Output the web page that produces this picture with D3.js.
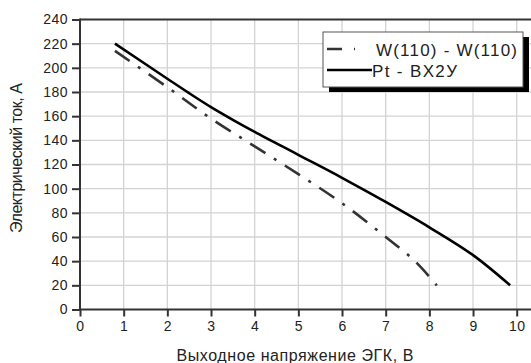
<!DOCTYPE html>
<html>
<head>
<meta charset="utf-8">
<script src="https://cdn.jsdelivr.net/npm/d3@7"></script>
<style>
  html, body { margin: 0; padding: 0; background: #fff; }
  text { font-family: Arial, 'Liberation Sans', sans-serif; fill: #222; }
</style>
</head>
<body>
<div id="chart"></div>
<script>
// Pt - BX2У (solid)
const ptVolt = [0.8, 2, 2.5, 3, 3.5, 4, 5, 6, 7, 8, 9, 9.85]
const ptCurr = [220, 191, 179, 167.5, 157, 147, 128, 109, 89, 68, 45, 20]
// W(110) - W(110) (dash-dot)
const wVolt = [0.8, 2, 3, 4, 5, 6, 7, 7.67, 8.17]
const wCurr = [214, 184, 158, 135, 112, 88, 60, 40, 20]

const xTicks = [0, 1, 2, 3, 4, 5, 6, 7, 8, 9, 10]
const yTicks = [0, 20, 40, 60, 80, 100, 120, 140, 160, 180, 200, 220, 240]
const seriesNames = ['W(110) - W(110)', 'Pt - BX2У']

const width = 531, height = 363
const margin = { left: 80, top: 19.5, bottom: 53.5 }
const unit = 43.67

let svg = d3.select('#chart').append('svg')
    .attr('width', width)
    .attr('height', height)

let x = d3.scaleLinear().domain([0, 10.5]).range([margin.left, margin.left + unit * 10.5])
let y = d3.scaleLinear().domain([0, 240]).range([height - margin.bottom, margin.top])

// grid
svg.append('g').selectAll('line')
    .data(xTicks.filter(d => d > 0))
    .enter().append('line')
    .attr('x1', d => x(d)).attr('x2', d => x(d))
    .attr('y1', y(240)).attr('y2', y(0))
    .attr('stroke', '#d3d3d3').attr('stroke-width', 1.3)
svg.append('g').selectAll('line')
    .data(yTicks.filter(d => d > 0 && d < 240))
    .enter().append('line')
    .attr('x1', x(0)).attr('x2', width)
    .attr('y1', d => y(d)).attr('y2', d => y(d))
    .attr('stroke', '#d3d3d3').attr('stroke-width', 1.3)

// top frame
svg.append('line')
    .attr('x1', x(0)).attr('x2', width)
    .attr('y1', y(240)).attr('y2', y(240))
    .attr('stroke', '#333').attr('stroke-width', 2)

// axes
let xAxis = svg.append('g')
    .attr('transform', 'translate(0,' + y(0) + ')')
    .call(d3.axisBottom(x).tickValues(xTicks).tickSize(7).tickSizeOuter(0).tickPadding(5))
let yAxis = svg.append('g')
    .attr('transform', 'translate(' + x(0) + ',0)')
    .call(d3.axisLeft(y).tickValues(yTicks).tickSize(8).tickSizeOuter(0).tickPadding(4))
;[xAxis, yAxis].forEach(function (a) {
    a.select('.domain').attr('stroke', '#333').attr('stroke-width', 2)
    a.selectAll('.tick line').attr('stroke', '#333').attr('stroke-width', 2)
    a.selectAll('.tick text')
        .attr('font-size', '14px')
        .attr('letter-spacing', '0.5px')
        .attr('fill', '#222')
})
xAxis.select('.domain').attr('d', 'M' + (x(0) - 1) + ',0H' + width)
yAxis.select('.domain').attr('d', 'M0,' + (y(0) + 1) + 'V' + (y(240) - 1))

// titles
svg.append('text')
    .attr('x', 295).attr('y', 361)
    .attr('text-anchor', 'middle')
    .attr('font-size', '16px')
    .attr('textLength', 237)
    .attr('lengthAdjust', 'spacing')
    .text('Выходное напряжение ЭГК, В')
svg.append('text')
    .attr('transform', 'translate(22,158) rotate(-90)')
    .attr('text-anchor', 'middle')
    .attr('font-size', '16px')
    .attr('textLength', 150)
    .attr('lengthAdjust', 'spacing')
    .text('Электрический ток, А')

// lines
let line = d3.line().curve(d3.curveCatmullRom.alpha(0.5))
let plot = svg.append('g')
plot.append('path')
    .datum(wVolt.map((v, i) => [x(v), y(wCurr[i])]))
    .attr('d', line)
    .attr('fill', 'none')
    .attr('stroke', '#333')
    .attr('stroke-width', 2.6)
    .attr('stroke-dasharray', '18,10,3,10')
plot.append('path')
    .datum(ptVolt.map((v, i) => [x(v), y(ptCurr[i])]))
    .attr('d', line)
    .attr('fill', 'none')
    .attr('stroke', '#000')
    .attr('stroke-width', 2.6)

// legend
let lg = svg.append('g').attr('transform', 'translate(323,32)')
lg.append('rect')
    .attr('x', 6).attr('y', 5).attr('width', 200).attr('height', 55)
    .attr('fill', '#000')
lg.append('rect')
    .attr('x', 0).attr('y', 0).attr('width', 200).attr('height', 55)
    .attr('fill', '#fff').attr('stroke', '#555').attr('stroke-width', 1)
lg.append('line')
    .attr('x1', 4).attr('x2', 32).attr('y1', 17).attr('y2', 17)
    .attr('stroke', '#333').attr('stroke-width', 2.6)
    .attr('stroke-dasharray', '15,12,3,20')
lg.append('line')
    .attr('x1', 4).attr('x2', 49).attr('y1', 38).attr('y2', 38)
    .attr('stroke', '#000').attr('stroke-width', 2.6)
lg.append('text')
    .attr('x', 53).attr('y', 23.5)
    .attr('font-size', '17px')
    .attr('textLength', 141)
    .attr('lengthAdjust', 'spacing')
    .text(seriesNames[0])
lg.append('text')
    .attr('x', 49).attr('y', 44.5)
    .attr('font-size', '17px')
    .attr('textLength', 85)
    .attr('lengthAdjust', 'spacing')
    .text(seriesNames[1])
</script>
</body>
</html>
